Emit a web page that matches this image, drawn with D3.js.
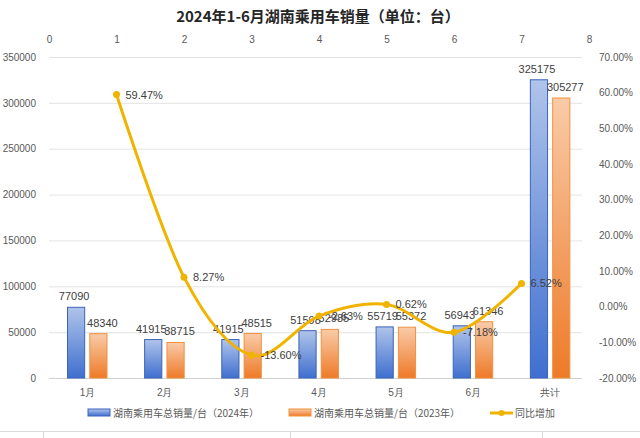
<!DOCTYPE html>
<html><head><meta charset="utf-8">
<script src="https://cdn.jsdelivr.net/npm/d3@7"></script>
<style>
body{margin:0;background:#fff;}
svg{display:block;font-family:"Noto Sans CJK SC","Liberation Sans",sans-serif;}
</style></head>
<body><svg id="c" width="640" height="438"></svg>
<script>
const categories = ["1月","2月","3月","4月","5月","6月","共计"];
const sales2024 = [77090, 41915, 41915, 51598, 55719, 56943, 325175];
const sales2023 = [48340, 38715, 48515, 52985, 55372, 61346, 305277];
const growth = [0.5947, 0.0827, -0.1360, -0.0263, 0.0062, -0.0718, 0.0652];
const growthLabels = ["59.47%","8.27%","-13.60%","-2.63%","0.62%","-7.18%","6.52%"];
const leftTicks = [0,50000,100000,150000,200000,250000,300000,350000];
const rightTicks = [-0.2,-0.1,0,0.1,0.2,0.3,0.4,0.5,0.6,0.7];
const topTicks = [0,1,2,3,4,5,6,7,8];
const seriesNames = ["湖南乘用车总销量/台（2024年）","湖南乘用车总销量/台（2023年）","同比增加"];
const title = "2024年1-6月湖南乘用车销量（单位：台）";

const svg = d3.select("#c");
const L = 49, R = 589, T = 57, B = 378;
const y = d3.scaleLinear().domain([0,350000]).range([B,T]);
const yR = d3.scaleLinear().domain([-0.2,0.7]).range([B,T]);
const x0 = d3.scaleBand().domain(categories).range([L,R]).padding(0);
const x1 = d3.scaleBand().domain([0,1]).range([18.5,58]).paddingInner(0.23);
const xTop = d3.scaleLinear().domain([0,8]).range([L,R]);

const defs = svg.append("defs");
function grad(id, c1, c2){
  const g = defs.append("linearGradient").attr("id",id).attr("x1",0).attr("y1",0).attr("x2",0).attr("y2",1);
  g.append("stop").attr("offset","0%").attr("stop-color",c1);
  g.append("stop").attr("offset","100%").attr("stop-color",c2);
}
grad("gb","#b0c4ea","#3f6fcf");
grad("go","#f9cba8","#ee7a28");

// title
svg.append("text").attr("x",318).attr("y",22).attr("text-anchor","middle")
  .attr("font-size",15).attr("font-weight","bold").attr("fill","#262626").text(title);

// gridlines
svg.append("g").selectAll("line").data(leftTicks).join("line")
  .attr("x1",L).attr("x2",582).attr("y1",d=>y(d)+0.5).attr("y2",d=>y(d)+0.5)
  .attr("stroke",d=>d===0?"#d0d0d0":"#e3e3e3").attr("stroke-width",1);

// left axis
const axL = svg.append("g").attr("transform",`translate(${L-8},0)`)
  .call(d3.axisLeft(y).tickValues(leftTicks).tickSize(0).tickFormat(d3.format("d")));
axL.select(".domain").remove();
axL.selectAll("text").attr("fill","#595959").attr("font-size",10).attr("font-family","Liberation Sans, sans-serif").attr("dx",-2);

// right axis
const axR = svg.append("g").attr("transform",`translate(${596},0)`)
  .call(d3.axisRight(yR).tickValues(rightTicks).tickSize(0).tickFormat(d=>(d*100).toFixed(2)+"%"));
axR.select(".domain").remove();
axR.selectAll("text").attr("fill","#595959").attr("font-size",10).attr("font-family","Liberation Sans, sans-serif");

// top axis
const axT = svg.append("g").attr("transform",`translate(0,${46})`)
  .call(d3.axisTop(xTop).tickValues(topTicks).tickSize(0).tickFormat(d3.format("d")));
axT.select(".domain").remove();
axT.selectAll("text").attr("fill","#595959").attr("font-size",10).attr("font-family","Liberation Sans, sans-serif");

// bottom axis
const axB = svg.append("g").attr("transform",`translate(0,${B+6})`)
  .call(d3.axisBottom(x0).tickSize(0));
axB.select(".domain").remove();
axB.selectAll("text").attr("fill","#595959").attr("font-size",10).attr("dy","0.9em");

// bars
const series = [sales2024, sales2023];
const fills = ["url(#gb)","url(#go)"];
const strokes = ["#3b64b8","#f0913f"];
series.forEach((vals,si)=>{
  svg.append("g").selectAll("rect").data(vals).join("rect")
    .attr("x",(d,i)=>x0(categories[i])+x1(si))
    .attr("y",d=>y(d))
    .attr("width",x1.bandwidth())
    .attr("height",d=>B-y(d))
    .attr("fill",fills[si]).attr("stroke",strokes[si]).attr("stroke-width",1);
});
// bar labels
series.forEach((vals,si)=>{
  svg.append("g").selectAll("text").data(vals).join("text")
    .attr("x",(d,i)=>x0(categories[i])+x1(si)+x1.bandwidth()/2 + (si===0?-2:4))
    .attr("y",d=>y(d)-7)
    .attr("text-anchor","middle")
    .attr("font-size",11).attr("fill","#404040")
    .attr("font-family","Liberation Sans, sans-serif")
    .text(d=>d);
});

// line
const pts = growth.map((g,i)=>[xTop(i+1), yR(g)]);
svg.append("path").datum(pts)
  .attr("d",d3.line().curve(d3.curveCardinal.tension(0)))
  .attr("fill","none").attr("stroke","#f0b400").attr("stroke-width",3);
svg.append("g").selectAll("circle").data(pts).join("circle")
  .attr("cx",d=>d[0]).attr("cy",d=>d[1]).attr("r",3.5).attr("fill","#f0b400");
svg.append("g").selectAll("text").data(pts).join("text")
  .attr("x",d=>d[0]+9).attr("y",d=>d[1]+4)
  .attr("font-size",11).attr("fill","#404040")
  .attr("font-family","Liberation Sans, sans-serif")
  .text((d,i)=>growthLabels[i]);

// legend
const lg = svg.append("g").attr("font-size",10).attr("fill","#595959");
const lx = [88, 289, 490];
lg.append("rect").attr("x",lx[0]).attr("y",409).attr("width",22).attr("height",7).attr("fill","url(#gb)").attr("stroke","#3b64b8");
lg.append("rect").attr("x",lx[1]).attr("y",409).attr("width",22).attr("height",7).attr("fill","url(#go)").attr("stroke","#f0913f");
lg.append("line").attr("x1",lx[2]).attr("x2",lx[2]+23).attr("y1",413).attr("y2",413).attr("stroke","#f0b400").attr("stroke-width",3);
lg.append("circle").attr("cx",lx[2]+11.5).attr("cy",413).attr("r",3).attr("fill","#f0b400");
seriesNames.forEach((n,i)=>{
  lg.append("text").attr("x",lx[i]+25).attr("y",417).attr("fill","#595959").text(n);
});

// sheet borders below
svg.append("line").attr("x1",0).attr("x2",640).attr("y1",431.5).attr("y2",431.5).attr("stroke","#d9d9d9");
[43,290,542].forEach(xx=>{
  svg.append("line").attr("x1",xx+0.5).attr("x2",xx+0.5).attr("y1",432).attr("y2",438).attr("stroke","#d9d9d9");
});
</script></body></html>
